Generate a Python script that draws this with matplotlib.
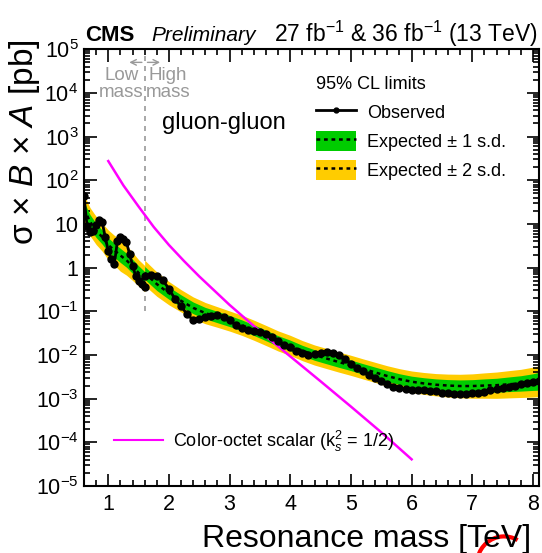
import numpy as np
import matplotlib.pyplot as plt
from matplotlib.lines import Line2D
from matplotlib.patches import Patch, Arc

plt.rcParams['font.family'] = ['Liberation Sans', 'DejaVu Sans']
plt.rcParams['mathtext.fontset'] = 'custom'
plt.rcParams['mathtext.rm'] = 'Liberation Sans'
plt.rcParams['mathtext.it'] = 'Liberation Sans:italic'
plt.rcParams['mathtext.bf'] = 'Liberation Sans:bold'

# observed limit, low-mass search (TeV, pb)
obs_low_mass = [0.60, 0.65, 0.70, 0.75, 0.80, 0.85, 0.90, 0.95, 1.00, 1.05, 1.10,
                1.15, 1.20, 1.25, 1.30, 1.35, 1.40, 1.45, 1.50, 1.55, 1.60]
obs_low = [44, 9.0, 6.5, 6.8, 9.5, 12.5, 11.0, 5.0, 2.4, 1.6, 1.2,
           4.0, 5.0, 4.5, 3.8, 2.1, 1.12, 0.66, 0.50, 0.42, 0.355]

# observed limit, high-mass search
obs_high_mass = [1.6, 1.7, 1.8, 1.9, 2.0, 2.1, 2.2, 2.3, 2.4, 2.5, 2.6, 2.7, 2.8, 2.9,
                 3.0, 3.1, 3.2, 3.3, 3.4, 3.5, 3.6, 3.7, 3.8, 3.9, 4.0, 4.1, 4.2, 4.3,
                 4.4, 4.5, 4.6, 4.7, 4.8, 4.9, 5.0, 5.1, 5.2, 5.3, 5.4, 5.5, 5.6, 5.7,
                 5.8, 5.9, 6.0, 6.1, 6.2, 6.3, 6.4, 6.5, 6.6, 6.7, 6.8, 6.9, 7.0, 7.1,
                 7.2, 7.3, 7.4, 7.5, 7.6, 7.7, 7.8, 7.9, 8.0, 8.1]
obs_high = [0.63, 0.68, 0.63, 0.51, 0.33, 0.19, 0.132, 0.085, 0.063, 0.068, 0.074,
            0.079, 0.081, 0.076, 0.063, 0.048, 0.042, 0.038, 0.035, 0.033, 0.030,
            0.026, 0.021, 0.017, 0.015, 0.0126, 0.0112, 0.0100, 0.0105, 0.0112,
            0.0115, 0.0112, 0.0100, 0.0079, 0.0063, 0.0050, 0.0042, 0.0035, 0.0030,
            0.0026, 0.0022, 0.0019, 0.00174, 0.00166, 0.00162, 0.00158, 0.00155,
            0.00151, 0.00148, 0.00138, 0.00132, 0.00126, 0.00126, 0.00126, 0.00132,
            0.00138, 0.00145, 0.00155, 0.00166, 0.00174, 0.00186, 0.0020, 0.00214,
            0.0023, 0.0024, 0.0025]

# expected limit and band factors
exp_low_mass = [0.6, 0.7, 0.8, 0.9, 1.0, 1.1, 1.2, 1.3, 1.4, 1.5, 1.6]
exp_low = [22, 11.2, 7.1, 5.0, 3.3, 2.5, 1.9, 1.48, 1.07, 0.76, 0.56]
sd1_low = [1.45, 1.45, 1.45, 1.45, 1.45, 1.45, 1.45, 1.45, 1.45, 1.45, 1.45]
sd2_low = [2.1, 2.1, 2.1, 2.1, 2.2, 2.2, 2.3, 2.2, 2.1, 2.0, 2.0]

exp_high_mass = [1.6, 1.8, 2.0, 2.2, 2.4, 2.6, 2.8, 3.0, 3.2, 3.4, 3.6, 3.8, 4.0, 4.2,
                 4.4, 4.6, 4.8, 5.0, 5.2, 5.4, 5.6, 5.8, 6.0, 6.2, 6.4, 6.6, 6.8, 7.0,
                 7.2, 7.4, 7.6, 7.8, 8.0, 8.1]
exp_high = [0.76, 0.42, 0.26, 0.174, 0.12, 0.091, 0.074, 0.060, 0.048, 0.037, 0.028,
            0.021, 0.0166, 0.0126, 0.0100, 0.0083, 0.0069, 0.0058, 0.0048, 0.0040,
            0.0033, 0.0028, 0.00245, 0.00224, 0.00209, 0.0020, 0.00195, 0.00195,
            0.0020, 0.00204, 0.00214, 0.00224, 0.0024, 0.00251]
sd1_high = [1.4, 1.4, 1.38, 1.37, 1.36, 1.35, 1.35, 1.34, 1.33, 1.32, 1.32, 1.32, 1.32,
            1.32, 1.32, 1.32, 1.32, 1.32, 1.32, 1.32, 1.33, 1.33, 1.34, 1.35, 1.36,
            1.37, 1.38, 1.40, 1.42, 1.44, 1.47, 1.5, 1.55, 1.6]
sd2_high = [1.95, 1.9, 1.85, 1.8, 1.78, 1.75, 1.72, 1.7, 1.7, 1.7, 1.7, 1.7, 1.7, 1.7,
            1.7, 1.7, 1.7, 1.7, 1.7, 1.7, 1.72, 1.74, 1.76, 1.78, 1.8, 1.83, 1.86,
            1.9, 1.95, 2.0, 2.05, 2.1, 2.2, 2.25]

# color-octet scalar cross section
sig_mass = [1.0, 1.25, 1.5, 1.75, 2.0, 2.25, 2.5, 3.0, 3.5, 4.0, 4.5, 5.0, 5.5, 6.0]
sig_xs = [275, 76, 25, 8.5, 3.3, 1.41, 0.63, 0.14, 0.035, 0.0093, 0.0025,
          0.00066, 0.00017, 0.000041]

y_ticks = [1e-5, 1e-4, 1e-3, 1e-2, 1e-1, 1, 10, 1e2, 1e3, 1e4, 1e5]
y_labels = ['$10^{-5}$', '$10^{-4}$', '$10^{-3}$', '$10^{-2}$', '$10^{-1}$', '1', '10',
            '$10^{2}$', '$10^{3}$', '$10^{4}$', '$10^{5}$']

GREEN = '#00cc00'
YELLOW = '#ffcc00'
MAGENTA = '#ff00ff'
GRAY = '#999999'

fig = plt.figure(figsize=(5.42, 5.53), dpi=100)
ax = fig.add_axes([0.155, 0.121, 0.8395, 0.790])

# bands
for m, e, s1, s2 in [(exp_low_mass, exp_low, sd1_low, sd2_low),
                     (exp_high_mass, exp_high, sd1_high, sd2_high)]:
    m = np.array(m)
    e = np.array(e)
    s1 = np.array(s1)
    s2 = np.array(s2)
    ax.fill_between(m, e / s2, e * s2, color=YELLOW, lw=0, zorder=1)
    ax.fill_between(m, e / s1, e * s1, color=GREEN, lw=0, zorder=2)
    ax.plot(m, e, color='black', lw=1.8, ls=(0, (1.5, 1.5)), zorder=3)

ax.plot(obs_low_mass, obs_low, color='black', lw=2, marker='o', ms=5, zorder=5)
ax.plot(obs_high_mass, obs_high, color='black', lw=2, marker='o', ms=5, zorder=5)

ax.plot(sig_mass, sig_xs, color=MAGENTA, lw=1.8, zorder=4)

# low / high mass separation
ax.plot([1.6, 1.6], [0.1, 7e4], color=GRAY, lw=1.2, ls=(0, (3, 3)), zorder=0)
ax.annotate('', xy=(1.3, 5e4), xytext=(1.6, 5e4),
            arrowprops=dict(arrowstyle='->', color=GRAY, lw=1))
ax.annotate('', xy=(1.9, 5e4), xytext=(1.6, 5e4),
            arrowprops=dict(arrowstyle='->', color=GRAY, lw=1))
ax.text(1.585, 1.6e4, 'Low\nmass', ha='right', va='center', color=GRAY,
        fontsize=13.5, multialignment='center', linespacing=0.95)
ax.text(1.615, 1.6e4, 'High\nmass', ha='left', va='center', color=GRAY,
        fontsize=13.5, multialignment='center', linespacing=0.95)

ax.text(1.88, 2.1e3, 'gluon-gluon', fontsize=17, ha='left', va='center')

ax.set_yscale('log')
ax.set_xlim(0.6, 8.1)
ax.set_ylim(1e-5, 1e5)
ax.set_yticks(y_ticks)
ax.set_yticklabels(y_labels)
ax.set_xticks(range(1, 9))
ax.set_xticks(np.arange(0.6, 8.1, 0.2), minor=True)
ax.yaxis.set_minor_locator(plt.matplotlib.ticker.LogLocator(base=10, subs=np.arange(2, 10), numticks=20))
ax.yaxis.set_minor_formatter(plt.NullFormatter())
ax.tick_params(which='both', direction='in', top=True, right=True, labelsize=15.5, width=1.2)
ax.tick_params(which='major', length=9)
ax.tick_params(which='minor', length=4.5)
ax.tick_params(axis='x', pad=6)
ax.tick_params(axis='y', pad=4)
for s in ax.spines.values():
    s.set_linewidth(1.5)

# legends
handles = [Line2D([], [], color='black', lw=2, marker='o', ms=3.5),
           (Patch(color=GREEN, lw=0), Line2D([], [], color='black', lw=1.8, ls=(0, (1.5, 1.5)))),
           (Patch(color=YELLOW, lw=0), Line2D([], [], color='black', lw=1.8, ls=(0, (1.5, 1.5))))]
labels = ['Observed', 'Expected \u00b1 1 s.d.', 'Expected \u00b1 2 s.d.']
leg = ax.legend(handles, labels, title='95% CL limits', loc='upper left',
                bbox_to_anchor=(0.475, 0.975), frameon=False, fontsize=13,
                title_fontsize=13, handlelength=2.2, handleheight=1.3,
                handletextpad=0.6, labelspacing=0.5, alignment='left')
ax.add_artist(leg)
ax.legend([Line2D([], [], color=MAGENTA, lw=1.5)],
          ['Color-octet scalar (k$_{s}^{2}$ = 1/2)'], loc='center left',
          bbox_to_anchor=(0.03, 0.103), frameon=False, fontsize=13,
          handlelength=2.7, handletextpad=0.6)

# headers and axis titles
fig.text(0.157, 0.925, 'CMS', fontsize=16, fontweight='bold', ha='left', va='baseline')
fig.text(0.28, 0.925, 'Preliminary', fontsize=15, style='italic', ha='left', va='baseline')
fig.text(0.993, 0.925, '27 fb$^{-1}$ & 36 fb$^{-1}$ (13 TeV)', fontsize=16.5,
         ha='right', va='baseline')
fig.text(0.372, 0.01, 'Resonance mass [TeV]', fontsize=23, ha='left', va='baseline')
fig.text(0.045, 0.93, '\u03c3 \u00d7 $B$ \u00d7 $A$ [pb]', fontsize=24, rotation=90,
         ha='center', va='top')

# partial red logo at the corner
fig.patches.append(Arc((0.93, -0.02), 0.10, 0.10, theta1=60, theta2=200,
                       transform=fig.transFigure, color='red', lw=3))

fig.savefig('out.png', dpi=100)
